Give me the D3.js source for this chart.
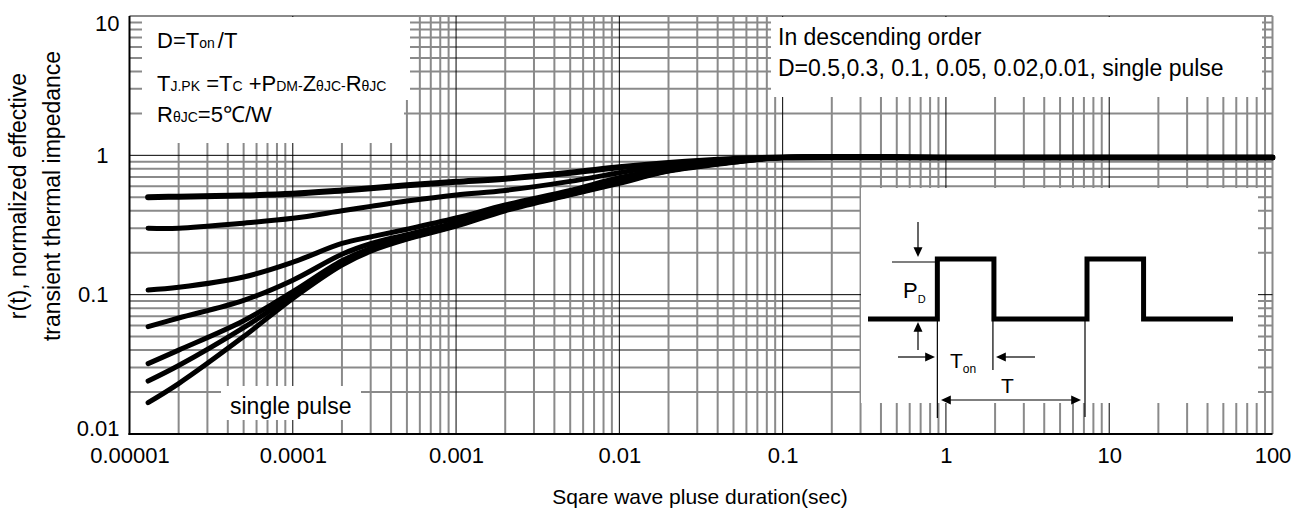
<!DOCTYPE html>
<html><head><meta charset="utf-8">
<script src="https://cdn.jsdelivr.net/npm/d3@7"></script>
<style>
html,body{margin:0;padding:0;background:#fff;}
svg{display:block;font-family:"Liberation Sans",Arial,Helvetica,sans-serif;}
</style></head><body>
<svg id="chart" width="1298" height="516"></svg>
<script>
// Square-wave pulse durations (s) at which each curve is sampled
const pulseDurations = [1.3e-5, 2e-5, 5e-5, 1e-4, 2e-4, 3e-4, 5e-4, 1e-3, 2e-3, 5e-3, 1e-2, 2e-2, 5e-2, 1e-1, 1, 10, 100];

// Normalized transient thermal impedance r(t), one array per duty cycle
const dutyHalf    = [0.50, 0.505, 0.515, 0.53, 0.56, 0.58, 0.61, 0.645, 0.68, 0.75, 0.82, 0.88, 0.94, 0.965, 0.965, 0.965, 0.965];
const dutyPoint3  = [0.30, 0.30, 0.326, 0.353, 0.40, 0.43, 0.47, 0.52, 0.56, 0.65, 0.75, 0.85, 0.93, 0.965, 0.965, 0.965, 0.965];
const dutyPoint1  = [0.108, 0.113, 0.134, 0.171, 0.233, 0.26, 0.295, 0.355, 0.44, 0.56, 0.69, 0.80, 0.92, 0.965, 0.965, 0.965, 0.965];
const dutyPoint05 = [0.059, 0.068, 0.091, 0.127, 0.195, 0.232, 0.27, 0.33, 0.42, 0.54, 0.665, 0.79, 0.91, 0.965, 0.965, 0.965, 0.965];
const dutyPoint02 = [0.032, 0.040, 0.065, 0.105, 0.175, 0.215, 0.257, 0.32, 0.41, 0.53, 0.65, 0.78, 0.90, 0.965, 0.965, 0.965, 0.965];
const dutyPoint01 = [0.024, 0.031, 0.058, 0.099, 0.168, 0.21, 0.253, 0.315, 0.405, 0.525, 0.64, 0.775, 0.895, 0.965, 0.965, 0.965, 0.965];
const singlePulse = [0.0168, 0.023, 0.050, 0.094, 0.163, 0.205, 0.25, 0.31, 0.40, 0.52, 0.63, 0.77, 0.89, 0.965, 0.965, 0.965, 0.965];

const seriesNames = ["0.5", "0.3", "0.1", "0.05", "0.02", "0.01", "single pulse"];
const seriesValues = [dutyHalf, dutyPoint3, dutyPoint1, dutyPoint05, dutyPoint02, dutyPoint01, singlePulse];

// Axis ticks
const xTickValues = [1e-5, 1e-4, 1e-3, 1e-2, 1e-1, 1, 10, 100];
const xTickLabels = ["0.00001", "0.0001", "0.001", "0.01", "0.1", "1", "10", "100"];
const yTickValues = [0.01, 0.1, 1, 10];
const yTickLabels = ["0.01", "0.1", "1", "10"];

// Inset waveform: pulse start times and on-time in arbitrary time units
const insetPulseStarts = [1.9, 6.0];
const insetOnTime = 1.55;
const insetSpan = [0, 10];

const svg = d3.select("#chart");
const plotLeft = 129.5, plotRight = 1272.5, plotTop = 16, plotBottom = 434;

const x = d3.scaleLog().domain([1e-5, 100]).range([plotLeft, plotRight]);
const y = d3.scaleLog().domain([0.01, 10]).range([plotBottom, plotTop]);

// 1-2-...-9 log grid values between two decades
function logGrid(lo, hi) {
  const out = [];
  for (let e = lo; e < hi; e++) for (let k = 1; k < 10; k++) out.push(k * Math.pow(10, e));
  out.push(Math.pow(10, hi));
  return out;
}
const isDecade = v => Math.abs(Math.log10(v) - Math.round(Math.log10(v))) < 1e-9;

const gridX = logGrid(-5, 2);
const gridY = logGrid(-2, 1);
const grid = svg.append("g");
const gray = "#8a8a8a";

// minor (gray) lines
grid.selectAll("line.vx").data(gridX.filter(v => !isDecade(v) || v === 100)).join("line")
  .attr("x1", d => x(d)).attr("x2", d => x(d)).attr("y1", plotBottom).attr("y2", plotTop)
  .attr("stroke", gray).attr("stroke-width", 2);
grid.selectAll("line.hy").data(gridY.filter(v => !isDecade(v) || v === 10)).join("line")
  .attr("x1", plotLeft).attr("x2", plotRight).attr("y1", d => y(d)).attr("y2", d => y(d))
  .attr("stroke", gray).attr("stroke-width", 2);
// decade (black) lines
grid.selectAll("line.dx").data(gridX.filter(v => isDecade(v) && v > 1e-5 && v < 100)).join("line")
  .attr("x1", d => x(d)).attr("x2", d => x(d)).attr("y1", plotBottom).attr("y2", plotTop)
  .attr("stroke", "#000").attr("stroke-width", 1);
grid.selectAll("line.dy").data(gridY.filter(v => isDecade(v) && v > 0.01 && v < 10)).join("line")
  .attr("x1", plotLeft).attr("x2", plotRight).attr("y1", d => y(d)).attr("y2", d => y(d))
  .attr("stroke", "#000").attr("stroke-width", 1);

// white note panels laid over the grid
const panels = [
  [142, 17, 268, 83], [142, 17, 262, 126],   // formula panel
  [771, 17, 491, 80],                         // order panel
  [861, 188, 397, 215],                       // waveform inset
  [221, 386, 140, 34]                         // "single pulse" tag
];
svg.append("g").selectAll("rect").data(panels).join("rect")
  .attr("x", d => d[0]).attr("y", d => d[1]).attr("width", d => d[2]).attr("height", d => d[3])
  .attr("fill", "#fff");

// axes
const xAxis = svg.append("g").attr("transform", `translate(0,${plotBottom})`)
  .call(d3.axisBottom(x).tickValues(xTickValues).tickFormat((d, i) => xTickLabels[i]).tickSize(0).tickPadding(13));
const yAxis = svg.append("g").attr("transform", `translate(${plotLeft},0)`)
  .call(d3.axisLeft(y).tickValues(yTickValues).tickFormat((d, i) => yTickLabels[i]).tickSize(0).tickPadding(10));
[xAxis, yAxis].forEach(g => {
  g.select(".domain").remove();
  g.selectAll("text").attr("font-size", 22).attr("fill", "#000").attr("font-family", null);
});
yAxis.selectAll(".tick text")
  .attr("dy", d => d === 10 ? "0.65em" : d === 0.01 ? "0.05em" : "0.32em")
  .attr("dx", d => (d === 1 || d === 0.1) ? -11 : 0);

svg.append("line").attr("x1", plotLeft).attr("x2", plotLeft).attr("y1", plotTop).attr("y2", plotBottom + 1)
  .attr("stroke", "#000").attr("stroke-width", 2);
svg.append("line").attr("x1", plotLeft - 1).attr("x2", plotRight).attr("y1", plotBottom).attr("y2", plotBottom)
  .attr("stroke", "#000").attr("stroke-width", 2);

// curves
const line = d3.line().x(d => x(d[0])).y(d => y(d[1])).curve(d3.curveCatmullRom.alpha(0.5));
svg.append("g").selectAll("path").data(seriesValues.map((vals, i) => ({ name: seriesNames[i], pts: pulseDurations.map((t, j) => [t, vals[j]]) })))
  .join("path")
  .attr("d", d => line(d.pts))
  .attr("fill", "none").attr("stroke", "#000").attr("stroke-width", d => d.name === "0.5" ? 6 : 5)
  .attr("stroke-linecap", "round").attr("stroke-linejoin", "round");

// axis titles
svg.append("text").attr("x", 700).attr("y", 504).attr("text-anchor", "middle")
  .attr("font-size", 21).text("Sqare wave pluse duration(sec)");
const yTitle = svg.append("g").attr("transform", "translate(0,196) rotate(-90)");
yTitle.append("text").attr("x", 0).attr("y", 26).attr("text-anchor", "middle").attr("font-size", 23)
  .text("r(t), normalized effective");
yTitle.append("text").attr("x", 0).attr("y", 60).attr("text-anchor", "middle").attr("font-size", 23)
  .text("transient thermal impedance");

// formula notes; each part is [text, small?, dx]
function richText(xp, yp, parts, big, small) {
  const t = svg.append("text").attr("x", xp).attr("y", yp).attr("font-size", big);
  parts.forEach(([s, isSmall, dx]) => t.append("tspan").attr("font-size", isSmall ? small : big).attr("dx", dx || 0).text(s));
  return t;
}
richText(157, 48, [["D=T", 0], ["on", 1], ["/T", 0, 3]], 22, 14);
richText(157, 91, [["T", 0], ["J.PK", 1], [" =T", 0], ["C", 1], [" +P", 0], ["DM-", 1], ["Z", 0], ["θJC-", 1], ["R", 0], ["θJC", 1]], 22, 14);
richText(157, 122, [["R", 0], ["θJC", 1], ["=5℃/W", 0]], 22, 14);

svg.append("text").attr("x", 778).attr("y", 45).attr("font-size", 23).text("In descending order");
svg.append("text").attr("x", 778).attr("y", 76).attr("font-size", 23)
  .text("D=" + seriesNames.slice(0, 2).join(",") + ", " + seriesNames.slice(2, 5).join(", ") + "," + seriesNames[5] + ", " + seriesNames[6]);

svg.append("text").attr("x", 230).attr("y", 414).attr("font-size", 23).text("single pulse");

// ---- waveform inset ----
const tx = d3.scaleLinear().domain(insetSpan).range([868, 1233]);
const lv = d3.scaleLinear().domain([0, 1]).range([319, 259]);
const wave = [[insetSpan[0], 0]];
insetPulseStarts.forEach(s => { wave.push([s, 0], [s, 1], [s + insetOnTime, 1], [s + insetOnTime, 0]); });
wave.push([insetSpan[1], 0]);
const inset = svg.append("g");
inset.append("path").attr("d", d3.line().x(d => tx(d[0])).y(d => lv(d[1]))(wave))
  .attr("fill", "none").attr("stroke", "#000").attr("stroke-width", 5).attr("stroke-linejoin", "miter");

const p0 = tx(insetPulseStarts[0]), p0end = tx(insetPulseStarts[0] + insetOnTime), p1 = tx(insetPulseStarts[1]);
const thin = (x1, y1, x2, y2) => inset.append("line").attr("x1", x1).attr("y1", y1).attr("x2", x2).attr("y2", y2)
  .attr("stroke", "#000").attr("stroke-width", 1.2);
function head(xt, yt, dir) {
  const s = 7, w = 4.5;
  let pts;
  if (dir === "down") pts = [[xt, yt], [xt - w, yt - s * 1.4], [xt + w, yt - s * 1.4]];
  if (dir === "up") pts = [[xt, yt], [xt - w, yt + s * 1.4], [xt + w, yt + s * 1.4]];
  if (dir === "right") pts = [[xt, yt], [xt - s * 1.4, yt - w], [xt - s * 1.4, yt + w]];
  if (dir === "left") pts = [[xt, yt], [xt + s * 1.4, yt - w], [xt + s * 1.4, yt + w]];
  inset.append("path").attr("d", "M" + pts.join("L") + "Z").attr("fill", "#000");
}
// P_D markers
thin(892, lv(1) + 3, p0, lv(1) + 3);
thin(918, 222, 918, 248); head(918, 257, "down");
thin(918, 350, 918, 330); head(918, 322, "up");
// guide lines
thin(p0, lv(0), p0, 418);
thin(p0end - 1, lv(0), p0end - 1, 370);
thin(p1 - 2, lv(0), p1 - 2, 417);
// T_on arrows
thin(898, 357, 928, 357); head(935, 357, "right");
thin(1035, 357, 1003, 357); head(996, 357, "left");
// period arrow
thin(950, 400, 1072, 400); head(941, 400, "left"); head(1081, 400, "right");

const pd = inset.append("text").attr("x", 903).attr("y", 298).attr("font-size", 22);
pd.append("tspan").text("P");
pd.append("tspan").attr("font-size", 11).attr("dy", 5).text("D");
const ton = inset.append("text").attr("x", 950).attr("y", 368).attr("font-size", 21);
ton.append("tspan").text("T");
ton.append("tspan").attr("font-size", 12).attr("dy", 5).text("on");
inset.append("text").attr("x", 1001).attr("y", 393).attr("font-size", 21).text("T");
</script>
</body></html>
